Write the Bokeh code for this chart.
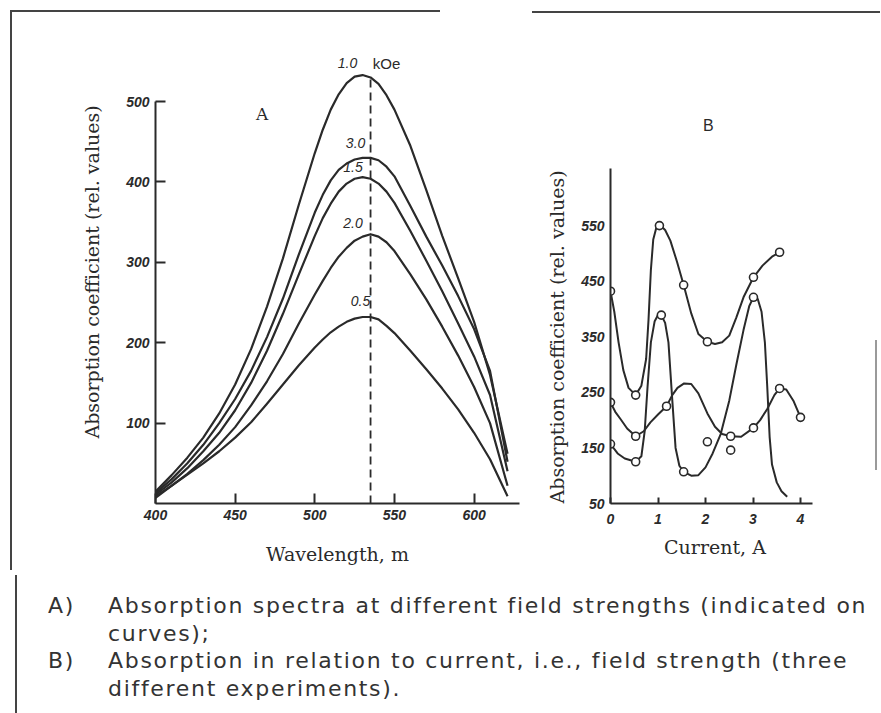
from bokeh.plotting import figure
from bokeh.models import Range1d, FixedTicker, Div, ColumnDataSource, Title
from bokeh.layouts import column, row
from bokeh.core.properties import value
from bokeh.embed import file_html
from bokeh.resources import INLINE

# ---------------- Panel A: absorption spectra ----------------
wavelength = [400, 410, 420, 430, 440, 450, 460, 470, 480, 490, 500, 505, 510, 515,
              520, 525, 530, 535, 540, 545, 550, 560, 570, 580, 590, 600, 610, 621]
absorb_10 = [15, 35, 57, 82, 112, 148, 192, 245, 305, 372, 436, 465, 490, 509,
             523, 531, 533, 530, 522, 508, 490, 445, 390, 333, 280, 226, 160, 62]
absorb_30 = [13, 30, 50, 73, 100, 130, 165, 207, 255, 310, 362, 384, 402, 415,
             423, 428, 430, 430, 427, 419, 407, 370, 332, 296, 258, 217, 165, 52]
absorb_15 = [11, 26, 44, 65, 88, 116, 150, 190, 236, 285, 333, 355, 373, 388,
             398, 404, 406, 404, 398, 388, 374, 339, 302, 264, 224, 183, 135, 40]
absorb_20 = [9, 22, 37, 54, 73, 95, 122, 152, 186, 224, 260, 277, 293, 307,
             318, 327, 332, 335, 332, 325, 314, 285, 254, 220, 184, 145, 100, 22]
absorb_05 = [7, 22, 36, 50, 65, 82, 101, 124, 148, 172, 194, 204, 213, 220,
             226, 230, 232, 232, 229, 221, 212, 190, 167, 143, 117, 88, 55, 9]
field_labels = ["1.0", "3.0", "1.5", "2.0", "0.5"]
field_unit = "kOe"
peak_wavelength = [535]
peak_line_top = [528]
wl_ticks = [400, 450, 500, 550, 600]
a_y_ticks = [100, 200, 300, 400, 500]

# ---------------- Panel B: absorption vs current ----------------
cur_pts_1 = [0, 0.53, 1.03, 1.54, 2.04, 3.01, 3.56]
abs_pts_1 = [432, 245, 550, 443, 341, 457, 502]
cur_line_1 = [0, 0.08, 0.17, 0.27, 0.38, 0.53, 0.65, 0.75, 0.8, 0.85, 0.9, 0.97, 1.03,
              1.15, 1.26, 1.4, 1.54, 1.7, 1.85, 2.04, 2.2, 2.35, 2.5, 2.65, 2.8, 3.01,
              3.2, 3.4, 3.56]
abs_line_1 = [432, 395, 340, 290, 258, 245, 262, 310, 380, 470, 525, 548, 552,
              542, 523, 485, 443, 392, 355, 341, 337, 340, 352, 385, 421, 457,
              478, 494, 502]

cur_pts_2 = [0, 0.53, 1.07, 1.54, 3.01]
abs_pts_2 = [157, 125, 389, 107, 421]
cur_line_2 = [0, 0.15, 0.3, 0.53, 0.65, 0.72, 0.78, 0.85, 0.93, 1.0, 1.07, 1.15, 1.22,
              1.3, 1.37, 1.45, 1.54, 1.7, 1.85, 2.0, 2.15, 2.32, 2.5, 2.65, 2.8, 2.92,
              3.01, 3.1, 3.18, 3.25, 3.3, 3.35, 3.4, 3.5, 3.6, 3.72]
abs_line_2 = [157, 140, 131, 125, 135, 180, 260, 340, 378, 389, 389, 375, 340,
              237, 150, 118, 107, 100, 101, 115, 140, 175, 235, 300, 362, 405,
              421, 418, 395, 340, 260, 170, 120, 88, 72, 62]

cur_pts_3 = [0, 0.53, 1.18, 2.53, 3.01, 3.56, 4.0]
abs_pts_3 = [232, 171, 225, 171, 186, 257, 205]
cur_line_3 = [0, 0.1, 0.21, 0.35, 0.53, 0.7, 0.84, 1.0, 1.18, 1.3, 1.41, 1.55, 1.7,
              1.85, 2.04, 2.2, 2.35, 2.53, 2.75, 3.01, 3.15, 3.3, 3.45, 3.56, 3.7,
              3.85, 4.0]
abs_line_3 = [232, 215, 202, 185, 171, 180, 196, 210, 225, 245, 258, 266, 265,
              248, 212, 188, 175, 171, 170, 186, 200, 220, 245, 257, 255, 235, 205]

cur_pts_extra = [2.04, 2.53]
abs_pts_extra = [161, 146]

cur_ticks = [0, 1, 2, 3, 4]
b_y_ticks = [50, 150, 250, 350, 450, 550]

y_title = "Absorption coefficient (rel. values)"
caption_rows = [
    ("A)", "Absorption spectra at different field strengths (indicated on"),
    ("", "curves);"),
    ("B)", "Absorption in relation to current, i.e., field strength (three"),
    ("", "different experiments)."),
]

INK = "#2a2a2a"
LINE = "#444444"


def style_axis(ax, ticks, bounds, tick_in, tick_standoff, label_standoff):
    ax.ticker = FixedTicker(ticks=ticks)
    ax.bounds = bounds
    ax.axis_line_color = INK
    ax.axis_line_width = 2
    ax.major_tick_line_color = INK
    ax.major_tick_line_width = 2
    ax.major_tick_in = tick_in
    ax.major_tick_out = 0
    ax.minor_tick_line_color = None
    ax.major_label_text_font = "Liberation Sans"
    ax.major_label_text_font_style = "bold italic"
    ax.major_label_text_font_size = "14px"
    ax.major_label_text_color = INK
    ax.major_label_standoff = tick_standoff
    ax.axis_label_text_font = "DejaVu Serif"
    ax.axis_label_text_font_style = "normal"
    ax.axis_label_text_font_size = "19px"
    ax.axis_label_text_color = INK
    ax.axis_label_standoff = label_standoff


def base(p):
    p.xgrid.visible = False
    p.ygrid.visible = False
    p.outline_line_color = None
    p.background_fill_color = None
    p.border_fill_color = None


# ---------------- Figure A ----------------
pa = figure(width=532, height=570, x_range=Range1d(400, 628.5), y_range=Range1d(0, 576),
            output_backend="svg", toolbar_location=None,
            min_border_left=155, min_border_right=13, min_border_top=40, min_border_bottom=67)
base(pa)
pa.xaxis.axis_label = "Wavelength, m"
pa.yaxis.axis_label = y_title
style_axis(pa.xaxis[0], wl_ticks, (400, 628.5), 10, 6, 20)
style_axis(pa.yaxis[0], a_y_ticks, (0, 500), 10, 6, 20)
pa.styles = {
    "background": (f"linear-gradient({LINE},{LINE}) 10px 10px / 430px 2px no-repeat, "
                   f"linear-gradient({LINE},{LINE}) 10px 10px / 2px 100% no-repeat")
}

for ys in [absorb_10, absorb_30, absorb_15, absorb_20, absorb_05]:
    pa.line(wavelength, ys, line_color=INK, line_width=2.2, line_join="round")

pa.segment(x0=peak_wavelength, y0=[0], x1=peak_wavelength, y1=peak_line_top,
           line_color=INK, line_width=1.8, line_dash="8 5")

# curve labels (positions are layout only)
lab_src = ColumnDataSource(dict(x=[520.5, 525.6, 524.0, 524.0, 528.7],
                                y=[548, 448, 419, 349, 252],
                                t=field_labels))
pa.text(x="x", y="y", text="t", source=lab_src, text_font=value("Liberation Sans"),
        text_font_style="italic", text_font_size="14px", text_align="center",
        text_baseline="middle", text_color=INK)
pa.text(x=[545], y=[548], text=[field_unit], text_font=value("Liberation Sans"),
        text_font_size="15px", text_align="center", text_baseline="middle", text_color=INK)
pa.text(x=[467], y=[485], text=["A"], text_font=value("DejaVu Serif"),
        text_font_size="17px", text_align="center", text_baseline="middle", text_color=INK)

# ---------------- Figure B ----------------
pb = figure(width=348, height=570, x_range=Range1d(0, 4.4), y_range=Range1d(50, 883),
            output_backend="svg", toolbar_location=None,
            min_border_left=78, min_border_right=61, min_border_top=40, min_border_bottom=67)
base(pb)
pb.xaxis.axis_label = "Current, A"
style_axis(pb.xaxis[0], cur_ticks, (0, 4.25), 6, 10, 9)
style_axis(pb.yaxis[0], b_y_ticks, (50, 652), 0, 6, 16)
pb.styles = {
    "background": (f"linear-gradient({LINE},{LINE}) 0 11px / 100% 2px no-repeat, "
                   "linear-gradient(#9a9a9a,#9a9a9a) 343px 340px / 2px 130px no-repeat")
}
pb.add_layout(Title(text=y_title, align="left", offset=0, standoff=22,
                    text_font="DejaVu Serif", text_font_size="19px",
                    text_font_style="normal", text_color=INK), "left")

for xs, ys in [(cur_line_1, abs_line_1), (cur_line_2, abs_line_2), (cur_line_3, abs_line_3)]:
    pb.line(xs, ys, line_color=INK, line_width=2, line_join="round")

for xs, ys in [(cur_pts_1, abs_pts_1), (cur_pts_2, abs_pts_2), (cur_pts_3, abs_pts_3),
               (cur_pts_extra, abs_pts_extra)]:
    pb.scatter(xs, ys, marker="circle", size=8, fill_color="white",
               line_color=INK, line_width=1.6)

pb.text(x=[2.06], y=[730], text=["B"], text_font=value("Liberation Sans"),
        text_font_size="16px", text_align="center", text_baseline="middle", text_color=INK)

# ---------------- Caption ----------------
rows_html = ""
for tag, line in caption_rows:
    rows_html += ('<div style="display:flex;height:27.7px;line-height:27.7px;white-space:nowrap">'
                  f'<span style="display:inline-block;width:60px">{tag}</span>'
                  f'<span>{line}</span></div>')
cap_html = ('<div style="padding:17px 0 0 43px;font-family:\'DejaVu Sans\';font-size:22px;'
            f'letter-spacing:1.7px;color:#333">{rows_html}</div>')
cap = Div(text=cap_html, width=880, height=142,
          styles={"background": f"linear-gradient({LINE},{LINE}) 10px 0 / 2px 100% no-repeat"})

layout = column(row(pa, pb), cap)
open("out.html", "w").write(file_html(layout, INLINE))
